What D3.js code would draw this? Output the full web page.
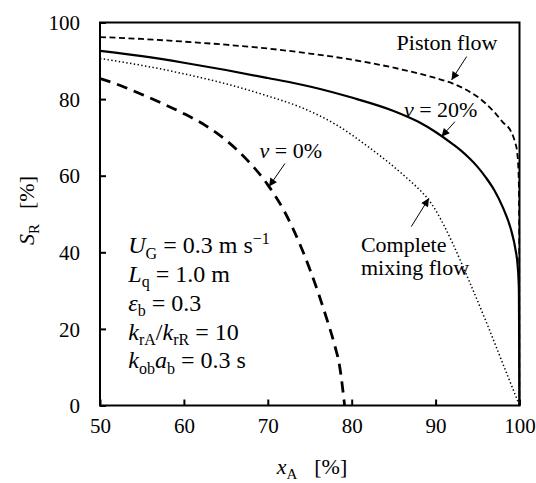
<!DOCTYPE html>
<html>
<head>
<meta charset="utf-8">
<script src="https://cdn.jsdelivr.net/npm/d3@7/dist/d3.min.js"></script>
<style>
  html, body { margin: 0; padding: 0; background: #fff; }
  svg { display: block; }
</style>
</head>
<body>
<svg id="chart" width="536" height="483"></svg>
<script>
// ---------- data ----------
const xTicks = [50, 60, 70, 80, 90, 100];
const yTicks = [0, 20, 40, 60, 80, 100];

const pistonX = [50, 55, 60, 65, 70, 75, 80, 85, 90, 92, 94, 95, 96, 97, 98, 99, 99.5, 99.7, 99.9, 99.97, 100];
const pistonY = [96.2, 95.7, 95.0, 94.2, 93.2, 91.9, 90.3, 88.2, 85.5, 84.1, 82.0, 80.6, 78.8, 76.6, 74.0, 71.5, 68.5, 66.5, 60.0, 45.0, 0];

const v20X = [50, 55, 60, 65, 70, 75, 80, 85, 88, 90, 92, 93, 94, 95, 96, 97, 98, 99, 99.5, 99.8, 99.93, 100];
const v20Y = [92.6, 91.2, 89.5, 87.6, 85.5, 83.3, 80.4, 76.9, 74.0, 71.4, 68.3, 66.6, 64.6, 62.3, 59.5, 56.2, 51.8, 45.8, 41.0, 36.0, 30.0, 0];

const mixX = [50, 55, 60, 65, 70, 74, 78, 82, 86, 88, 89, 90, 91, 92, 94, 96, 98, 99, 100];
const mixY = [90.6, 88.8, 86.6, 84.0, 80.8, 77.8, 73.5, 67.5, 60.5, 56.5, 54.2, 51.0, 47.0, 42.5, 32.5, 22.0, 11.0, 5.5, 0];

const v0X = [50, 52.5, 55, 57.5, 60, 62.5, 65, 67.5, 70, 72, 74, 76, 77, 78, 78.5, 79, 79.15];
const v0Y = [85.4, 83.5, 81.2, 78.8, 76.2, 73.2, 69.3, 64.2, 57.6, 50.6, 41.2, 29.5, 22.8, 15.5, 11.0, 3.0, 0];

const curveNames = ["Piston flow", "v = 20%", "Complete mixing flow", "v = 0%"];

// annotation arrows: [tailX, tailY, tipX, tipY] in data units
const arrowPiston = [93.7, 91.1, 91.9, 85.0];
const arrowV20 = [92.3, 74.1, 90.7, 70.2];
const arrowV0 = [72.05, 63.2, 70.15, 57.2];
const arrowMix = [87.1, 46.7, 89.2, 54.1];

const paramLines = [
  [["U", "i"], ["G", "sub"], [" = 0.3 m s", "n"], ["\u22121", "sup"]],
  [["L", "i"], ["q", "sub"], [" = 1.0 m", "n"]],
  [["\u03b5", "i"], ["b", "sub"], [" = 0.3", "n"]],
  [["k", "i"], ["rA", "sub"], ["/", "n"], ["k", "i"], ["rR", "sub"], [" = 10", "n"]],
  [["k", "i"], ["ob", "sub"], ["a", "i"], ["b", "sub"], [" = 0.3 s", "n"]]
];

// ---------- layout ----------
const W = 536, H = 483;
const margin = { left: 100, right: 16.5, top: 22.5, bottom: 77.5 };
const iw = W - margin.left - margin.right;
const ih = H - margin.top - margin.bottom;

const svg = d3.select("#chart");
const g = svg.append("g").attr("transform", `translate(${margin.left},${margin.top})`);

const x = d3.scaleLinear().domain([50, 100]).range([0, iw]);
const y = d3.scaleLinear().domain([0, 100]).range([ih, 0]);

const TICK_FS = 21;
const FONT = '"Liberation Serif"';

// arrow marker
const defs = svg.append("defs");
defs.append("marker")
  .attr("id", "ah").attr("viewBox", "0 0 10 10")
  .attr("refX", 10).attr("refY", 5)
  .attr("markerWidth", 11).attr("markerHeight", 8)
  .attr("markerUnits", "userSpaceOnUse")
  .attr("orient", "auto")
  .append("path").attr("d", "M0,0 L10,5 L0,10 Z").attr("fill", "#000");

defs.append("clipPath").attr("id", "clip")
  .append("rect").attr("x", 0).attr("y", -2).attr("width", iw + 1).attr("height", ih + 2);

// ---------- curves ----------
const line = d3.line().x(d => x(d[0])).y(d => y(d[1])).curve(d3.curveMonotoneX);
const zip = (a, b) => a.map((v, i) => [v, b[i]]);

const curves = [
  { name: curveNames[0], pts: zip(pistonX, pistonY), w: 1.8, dash: "6,3.5" },
  { name: curveNames[1], pts: zip(v20X, v20Y), w: 2.2, dash: null },
  { name: curveNames[2], pts: zip(mixX, mixY), w: 1.5, dash: "1.4,2.4" },
  { name: curveNames[3], pts: zip(v0X, v0Y), w: 2.8, dash: "11,7" }
];

const cg = g.append("g").attr("clip-path", "url(#clip)");
curves.forEach(c => {
  cg.append("path")
    .attr("d", line(c.pts))
    .attr("fill", "none")
    .attr("stroke", "#000")
    .attr("stroke-width", c.w)
    .attr("stroke-dasharray", c.dash);
});

// ---------- axes ----------
const xAxis = d3.axisBottom(x).tickValues(xTicks).tickSize(-6).tickPadding(13).tickFormat(d3.format("d"));
const yAxis = d3.axisLeft(y).tickValues(yTicks).tickSize(-6).tickPadding(20).tickFormat(d3.format("d"));

const gx = g.append("g").attr("transform", `translate(0,${ih})`).call(xAxis);
const gy = g.append("g").call(yAxis);
[gx, gy].forEach(a => {
  a.attr("font-family", null).attr("font-size", null);
  a.select(".domain").remove();
  a.selectAll(".tick line").attr("stroke", "#000").attr("stroke-width", 2);
  a.selectAll(".tick text").style("font-family", FONT).style("font-size", TICK_FS + "px").attr("fill", "#000");
});
gx.selectAll(".tick text").attr("dy", "0.71em");
gy.selectAll(".tick text").attr("dy", "0.34em");

// frame
g.append("rect").attr("x", 0).attr("y", 0).attr("width", iw).attr("height", ih)
  .attr("fill", "none").attr("stroke", "#000").attr("stroke-width", 2);

// ---------- rich text helper ----------
function rich(sel, segs, fs, sub) {
  let shift = 0;
  sel.style("font-family", FONT).attr("fill", "#000").style("font-size", fs + "px");
  segs.forEach(([t, s, dx]) => {
    const ts = sel.append("tspan").text(t);
    let target = 0, size = fs, style = "normal";
    if (s === "i") style = "italic";
    if (s === "sub") { target = fs * 0.22; size = sub; }
    if (s === "sup") { target = -fs * 0.38; size = sub; }
    ts.attr("dy", target - shift).style("font-size", size + "px").style("font-style", style);
    if (dx) ts.attr("dx", dx);
    shift = target;
  });
  sel.style("white-space", "pre");
  return sel;
}

// parameters block
paramLines.forEach((segs, i) => {
  const t = g.append("text")
    .attr("x", x(53.37))
    .attr("y", y(39.7) + i * 28.7);
  rich(t, segs, 24, 16);
});

// curve labels
function label(segs, xv, yv, anchor) {
  const t = g.append("text").attr("x", x(xv)).attr("y", y(yv))
    .attr("text-anchor", anchor);
  rich(t, segs, 22, 15);
}
label([["Piston flow", "n"]], 91.36, 92.8, "middle");
label([["v", "i"], [" = 20%", "n"]], 90.6, 75.4, "middle");
label([["v", "i"], [" = 0%", "n"]], 72.74, 64.5, "middle");
label([["Complete", "n"]], 81.1, 40.2, "start");
label([["mixing flow", "n"]], 81.1, 34.1, "start");

// arrows
[arrowPiston, arrowV20, arrowV0, arrowMix].forEach(a => {
  g.append("line")
    .attr("x1", x(a[0])).attr("y1", y(a[1]))
    .attr("x2", x(a[2])).attr("y2", y(a[3]))
    .attr("stroke", "#000").attr("stroke-width", 1)
    .attr("marker-end", "url(#ah)");
});

// axis titles
const xt = svg.append("text").attr("x", 276.7).attr("y", 474)
  .attr("text-anchor", "start");
rich(xt, [["x", "i"], ["A", "sub"], ["[%]", "n", 17]], 22, 15);

const yt = svg.append("text")
  .attr("transform", `translate(34,245) rotate(-90)`)
  .attr("text-anchor", "start");
rich(yt, [["S", "i"], ["R", "sub"], ["[%]", "n", 15]], 22, 15);
</script>
</body>
</html>
